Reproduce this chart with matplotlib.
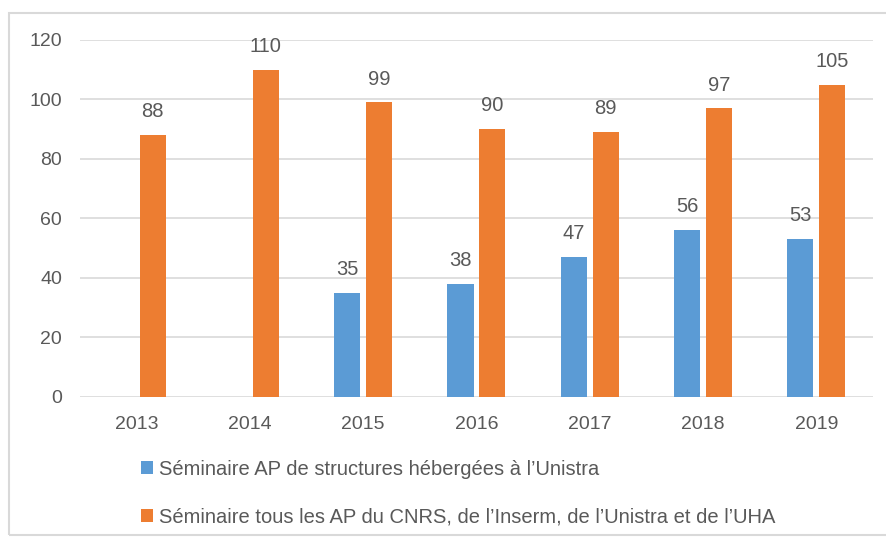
import numpy as np
import matplotlib
matplotlib.use('Agg')
import matplotlib.pyplot as plt
from matplotlib.patches import Rectangle

# Data
years = ['2013', '2014', '2015', '2016', '2017', '2018', '2019']
unistra = [np.nan, np.nan, 35, 38, 47, 56, 53]
all_ap = [88, 110, 99, 90, 89, 97, 105]
labels = ["Séminaire AP de structures hébergées à l\u2019Unistra",
          "Séminaire tous les AP du CNRS, de l\u2019Inserm, de l\u2019Unistra et de l\u2019UHA"]

blue = '#5b9bd5'
orange = '#ed7d31'
grey = '#595959'

plt.rcParams['font.family'] = ['Liberation Sans', 'DejaVu Sans']

fig = plt.figure(figsize=(8.87, 5.39), dpi=100)
ax = fig.add_axes([0.0902, 0.2635, 0.894, 0.6623])

x = np.arange(len(years))
w = 0.23
off = 0.141
b1 = ax.bar(x - off, unistra, w, color=blue, label=labels[0])
b2 = ax.bar(x + off, all_ap, w, color=orange, label=labels[1])

for bars, vals in ((b1, unistra), (b2, all_ap)):
    for r, v in zip(bars, vals):
        if np.isnan(v):
            continue
        ax.annotate(f'{int(v)}', (r.get_x() + r.get_width() / 2, v),
                    xytext=(0, 10), textcoords='offset points',
                    ha='center', va='bottom', fontsize=14.5, color=grey)

ax.set_xlim(-0.5, len(years) - 0.5)
ax.set_ylim(0, 120)
ax.set_yticks(range(0, 121, 20))
ax.set_xticks(x)
ax.set_xticklabels(years)
ax.tick_params(axis='both', length=0, labelsize=14, colors=grey)
ax.tick_params(axis='y', pad=13)
ax.tick_params(axis='x', pad=14)
ax.grid(axis='y', color='#d9d9d9', linewidth=1.2)
ax.set_axisbelow(True)
for s in ax.spines.values():
    s.set_visible(False)

fig.legend(loc='upper left', bbox_to_anchor=(0.159, 0.147), frameon=False,
           fontsize=14.5, labelcolor=grey, handlelength=0.6, handleheight=0.6,
           handletextpad=0.3, labelspacing=1.45, borderpad=0, borderaxespad=0)

# light chart border
fig.patches.append(Rectangle((0.010, 0.008), 1.2, 0.968, transform=fig.transFigure,
                             fill=False, edgecolor='#d9d9d9', linewidth=1.5))

fig.savefig('out.png', dpi=100)
